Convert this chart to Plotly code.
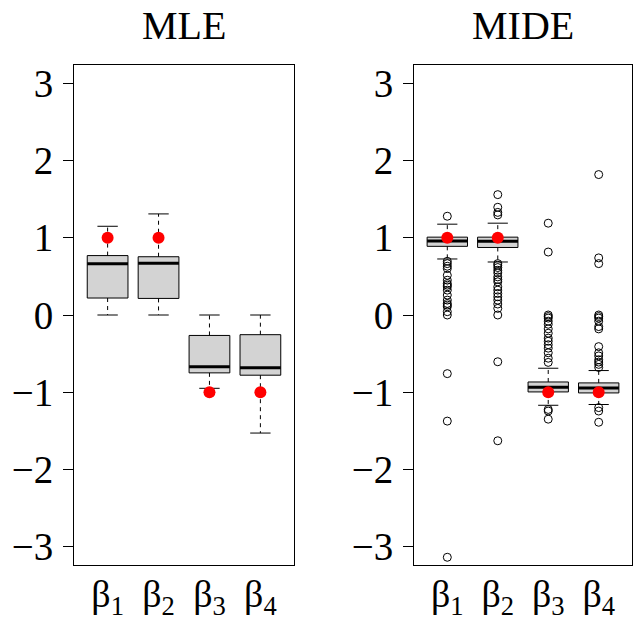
import plotly.graph_objects as go

labels = ["β<sub>1</sub>", "β<sub>2</sub>", "β<sub>3</sub>", "β<sub>4</sub>"]
positions = [1, 2, 3, 4]
truth = [1, 1, -1, -1]

mle_q1 = [0.22, 0.215, -0.75, -0.78]
mle_med = [0.665, 0.67, -0.67, -0.685]
mle_q3 = [0.77, 0.755, -0.265, -0.255]
mle_lo = [0.0, 0.0, -0.95, -1.53]
mle_hi = [1.15, 1.31, 0.0, 0.0]
mle_out = [[], [], [], []]

mide_q1 = [0.89, 0.875, -0.997, -1.01]
mide_med = [0.958, 0.955, -0.937, -0.945]
mide_q3 = [1.009, 1.009, -0.868, -0.88]
mide_lo = [0.726, 0.687, -1.17, -1.16]
mide_hi = [1.177, 1.19, -0.69, -0.72]
mide_out = [
    [1.28, 0.696, 0.666, 0.632, 0.602, 0.515, 0.451, 0.408, 0.387, 0.365, 0.322,
     0.258, 0.193, 0.15, 0.129, 0.107, 0.043, 0.0, -0.76, -1.375, -3.14],
    [1.56, 1.396, 1.33, 1.297, 0.666, 0.645, 0.615, 0.58, 0.546, 0.494, 0.46, 0.43,
     0.365, 0.322, 0.279, 0.236, 0.193, 0.142, 0.086, 0.0, -0.606, -1.63],
    [1.19, 0.816, 0.0, -0.02, -0.04, -0.08, -0.12, -0.18, -0.236, -0.3, -0.34,
     -0.385, -0.43, -0.49, -0.56, -0.614, -1.224, -1.245, -1.35],
    [1.82, 0.74, 0.666, 0.0, -0.02, -0.04, -0.08, -0.15, -0.18, -0.41, -0.49,
     -0.53, -0.58, -0.61, -0.64, -0.68, -1.2, -1.245, -1.39],
]

panels = [
    ("MLE", mle_q1, mle_med, mle_q3, mle_lo, mle_hi, mle_out),
    ("MIDE", mide_q1, mide_med, mide_q3, mide_lo, mide_hi, mide_out),
]

fig = go.Figure()
boxw = 0.8
capw = 0.4
font = "Liberation Serif"

for i, (title, q1, med, q3, lo, hi, outs) in enumerate(panels):
    xa = "x" if i == 0 else "x2"
    ya = "y" if i == 0 else "y2"
    wx, wy = [], []
    for p, a, b, c, d in zip(positions, q1, q3, lo, hi):
        wx += [p, p, None, p, p, None]
        wy += [b, d, None, a, c, None]
    fig.add_trace(go.Scatter(x=wx, y=wy, mode="lines", xaxis=xa, yaxis=ya,
                             line=dict(color="black", width=1, dash="4px,4px"),
                             showlegend=False, hoverinfo="skip"))
    cx, cy = [], []
    for p, c, d in zip(positions, lo, hi):
        cx += [p - capw / 2, p + capw / 2, None, p - capw / 2, p + capw / 2, None]
        cy += [c, c, None, d, d, None]
    fig.add_trace(go.Scatter(x=cx, y=cy, mode="lines", xaxis=xa, yaxis=ya,
                             line=dict(color="black", width=1),
                             showlegend=False, hoverinfo="skip"))
    fig.add_trace(go.Bar(x=positions, base=q1, y=[b - a for a, b in zip(q1, q3)],
                         width=boxw, xaxis=xa, yaxis=ya,
                         marker=dict(color="#D3D3D3", line=dict(color="black", width=1)),
                         showlegend=False, hoverinfo="skip"))
    mx, my = [], []
    for p, m in zip(positions, med):
        mx += [p - boxw / 2, p + boxw / 2, None]
        my += [m, m, None]
    fig.add_trace(go.Scatter(x=mx, y=my, mode="lines", xaxis=xa, yaxis=ya,
                             line=dict(color="black", width=3),
                             showlegend=False, hoverinfo="skip"))
    ox, oy = [], []
    for p, o in zip(positions, outs):
        ox += [p] * len(o)
        oy += o
    if ox:
        fig.add_trace(go.Scatter(x=ox, y=oy, mode="markers", xaxis=xa, yaxis=ya,
                                 marker=dict(symbol="circle-open", size=8,
                                             color="black", line=dict(width=1)),
                                 showlegend=False, hoverinfo="skip"))
    fig.add_trace(go.Scatter(x=positions, y=truth, mode="markers", xaxis=xa, yaxis=ya,
                             marker=dict(symbol="circle", size=12, color="red"),
                             showlegend=False, hoverinfo="skip"))

W, H = 635, 627
xd1 = [74 / W, 294 / W]
xd2 = [414 / W, 632 / W]
yd = [(H - 565) / H, (H - 65) / H]

common_x = dict(range=[0.34, 4.66], tickmode="array", tickvals=positions, ticktext=labels,
                showline=True, mirror=True, linecolor="black", linewidth=1,
                ticks="", showgrid=False, zeroline=False, ticklabelstandoff=-5,
                automargin=False,
                tickfont=dict(family=font, size=38, color="black"))
common_y = dict(range=[-3.24, 3.24], tickmode="array", tickvals=[-3, -2, -1, 0, 1, 2, 3],
                showline=True, mirror=True, linecolor="black", linewidth=1,
                ticks="outside", ticklen=10, tickcolor="black", showgrid=False,
                zeroline=False, ticklabelstandoff=2, automargin=False,
                tickfont=dict(family=font, size=39, color="black"))

fig.update_layout(
    width=W, height=H, margin=dict(l=0, r=0, t=0, b=0, autoexpand=False),
    paper_bgcolor="white", plot_bgcolor="white", barmode="overlay",
    xaxis=dict(domain=xd1, anchor="y", **common_x),
    yaxis=dict(domain=yd, anchor="x", **common_y),
    xaxis2=dict(domain=xd2, anchor="y2", **common_x),
    yaxis2=dict(domain=yd, anchor="x2", **common_y),
    annotations=[
        dict(text="MLE", x=(xd1[0] + xd1[1]) / 2, y=(H - 25) / H, xref="paper", yref="paper",
             showarrow=False, font=dict(family=font, size=40, color="black"),
             xanchor="center", yanchor="middle"),
        dict(text="MIDE", x=(xd2[0] + xd2[1]) / 2, y=(H - 25) / H, xref="paper", yref="paper",
             showarrow=False, font=dict(family=font, size=40, color="black"),
             xanchor="center", yanchor="middle"),
    ],
)

fig.write_html("out.html", config={"displayModeBar": False},
               post_script="document.body.style.margin='0';document.body.style.padding='0';")
